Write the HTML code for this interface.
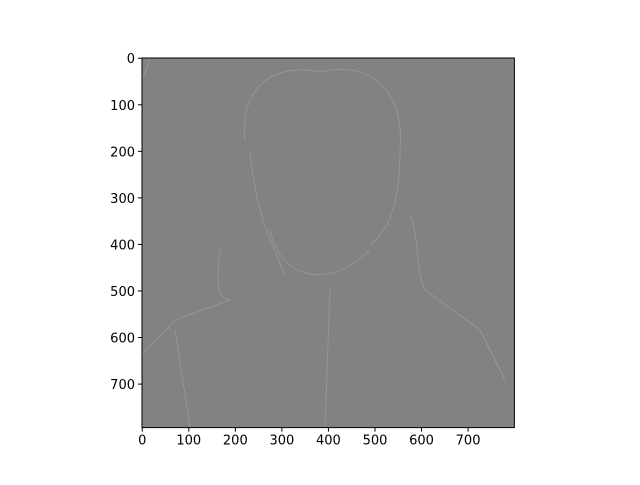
<!DOCTYPE html>
<html><head><meta charset="utf-8"><style>
body{margin:0;background:#fff;font-family:"Liberation Sans","DejaVu Sans",sans-serif;}
svg text{font-family:"DejaVu Sans","Liberation Sans",sans-serif;font-size:13px;fill:#000}
</style></head><body>
<svg width="640" height="480" viewBox="0 0 640 480">
<g id="plot"></g>
</svg>
<script>
const xTicks=[0,100,200,300,400,500,600,700];
const yTicks=[0,100,200,300,400,500,600,700];
const imgW=800, imgH=794;
const L=142,T=58,S=0.4655;
const sx=v=>L+(v+0.5)*S, sy=v=>T+(v+0.5)*S;
const g=document.getElementById('plot');
const ns='http://www.w3.org/2000/svg';
function mk(t,a){const e=document.createElementNS(ns,t);for(const k in a)e.setAttribute(k,a[k]);g.appendChild(e);return e;}
const img=mk('rect',{x:L,y:T,width:imgW*S,height:imgH*S,fill:'#828282'});


// faint edge features (head, shoulders)
const feat=mk('g',{fill:'none',stroke:'#9a9a9a','stroke-width':1,opacity:0.8});


const paths=['M245,140 C240,90 270,62 320,72 C370,60 405,90 400,150 C400,200 390,230 370,245','M270,230 C280,280 330,290 370,250','M220,250 C215,290 220,300 230,300','M230,300 L175,320 L142,355','M410,215 C420,240 415,270 425,290 L480,330 L505,380','M250,150 C255,210 270,240 285,275','M175,330 L190,427','M330,290 L325,427','M142,80 L150,60'];
for(const d of paths){const p=document.createElementNS(ns,'path');p.setAttribute('d',d);feat.appendChild(p);}
const fr=mk('rect',{x:L,y:T,width:imgW*S,height:imgH*S,fill:'none',stroke:'#000','stroke-width':1});


const B=T+imgH*S;
for(const v of xTicks){const x=sx(v);
 const l=mk('line',{x1:x,x2:x,y1:B,y2:B+4,stroke:'#000'});
 
 
 const t=mk('text',{x:x,y:B+17,'text-anchor':'middle'});t.textContent=v;
 
 }
for(const v of yTicks){const y=sy(v);
 const l=mk('line',{x1:L-4,x2:L,y1:y,y2:y,stroke:'#000'});
 
 
 const t=mk('text',{x:L-7,y:y+5,'text-anchor':'end'});t.textContent=v;
 
 }
</script>
</body></html>
